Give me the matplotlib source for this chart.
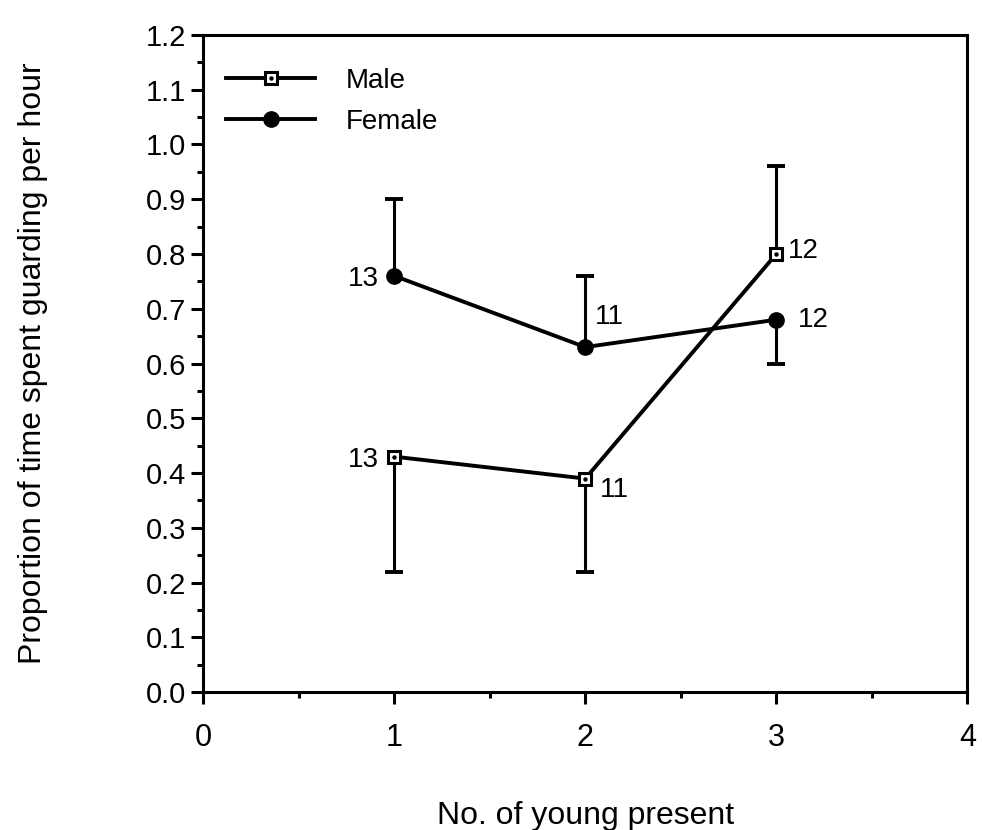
import numpy as np
import matplotlib
matplotlib.use("Agg")
import matplotlib.pyplot as plt
from matplotlib.lines import Line2D
from matplotlib.ticker import MultipleLocator, FormatStrFormatter

plt.rcParams['font.family'] = ['Liberation Sans', 'DejaVu Sans']

# guarding proportions by brood size
n_young = [1, 2, 3]
male_mean = [0.43, 0.39, 0.80]
male_err_tip = [0.22, 0.22, 0.96]
female_mean = [0.76, 0.63, 0.68]
female_err_tip = [0.90, 0.76, 0.60]
male_n = [13, 11, 12]
female_n = [13, 11, 12]

# label offsets in pixels (dx, dy, ha)
male_lab_off = [(-15, -3, 'right'), (15, -11, 'left'), (12, 3, 'left')]
female_lab_off = [(-15, -3, 'right'), (10, 30, 'left'), (22, 0, 'left')]

fig = plt.figure(figsize=(9.82, 8.30), dpi=100)
ax = fig.add_axes([0.207, 0.166, 0.778, 0.792])

lw = 2.8

def draw_series(means, tips, square):
    ax.vlines(n_young, means, tips, color='black', lw=2.2, zorder=2)
    ax.plot(n_young, tips, ls='none', marker='_', markersize=13, mew=2.8,
            color='black', zorder=2)
    if square:
        ax.plot(n_young, means, color='black', lw=lw, marker='s', markersize=9,
                mfc='white', mec='black', mew=2.2, zorder=3)
        ax.plot(n_young, means, ls='none', marker='o', markersize=2.2,
                color='black', zorder=4)
    else:
        ax.plot(n_young, means, color='black', lw=lw, marker='o', markersize=11,
                mfc='black', mec='black', zorder=3)

draw_series(male_mean, male_err_tip, True)
draw_series(female_mean, female_err_tip, False)

for xs, ys, ns, offs in [(n_young, male_mean, male_n, male_lab_off),
                          (n_young, female_mean, female_n, female_lab_off)]:
    for x, y, n, (dx, dy, ha) in zip(xs, ys, ns, offs):
        ax.annotate(str(n), (x, y), xytext=(dx, dy), textcoords='offset pixels',
                    ha=ha, va='center', fontsize=20)

ax.set_xlim(0, 4)
ax.set_ylim(0, 1.2)
ax.xaxis.set_major_locator(MultipleLocator(1))
ax.xaxis.set_minor_locator(MultipleLocator(0.5))
ax.yaxis.set_major_locator(MultipleLocator(0.1))
ax.yaxis.set_minor_locator(MultipleLocator(0.05))
ax.yaxis.set_major_formatter(FormatStrFormatter('%.1f'))
ax.tick_params(which='major', direction='out', length=8.5, width=2.2)
ax.tick_params(which='minor', direction='out', length=4.5, width=2.2)
ax.tick_params(axis='x', which='major', labelsize=22, pad=14)
ax.tick_params(axis='y', which='major', labelsize=21, pad=4)
for s in ax.spines.values():
    s.set_linewidth(2.2)

ax.set_xlabel('No. of young present', fontsize=23, labelpad=34)
ax.set_ylabel('Proportion of time spent guarding per hour', fontsize=23, labelpad=70)

male_handle = (Line2D([], [], color='black', lw=lw, marker='s', markersize=9,
                      mfc='white', mec='black', mew=2.2),
               Line2D([], [], ls='none', marker='o', markersize=2.2, color='black'))
female_handle = Line2D([], [], color='black', lw=lw, marker='o', markersize=11,
                       mfc='black', mec='black')
ax.legend([male_handle, female_handle], ['Male', 'Female'], loc='upper left',
          bbox_to_anchor=(0.030, 0.950), borderaxespad=0, borderpad=0,
          frameon=False, fontsize=20, handlelength=3.2, handletextpad=1.1,
          labelspacing=0.55)

fig.savefig('out.png', dpi=100)
